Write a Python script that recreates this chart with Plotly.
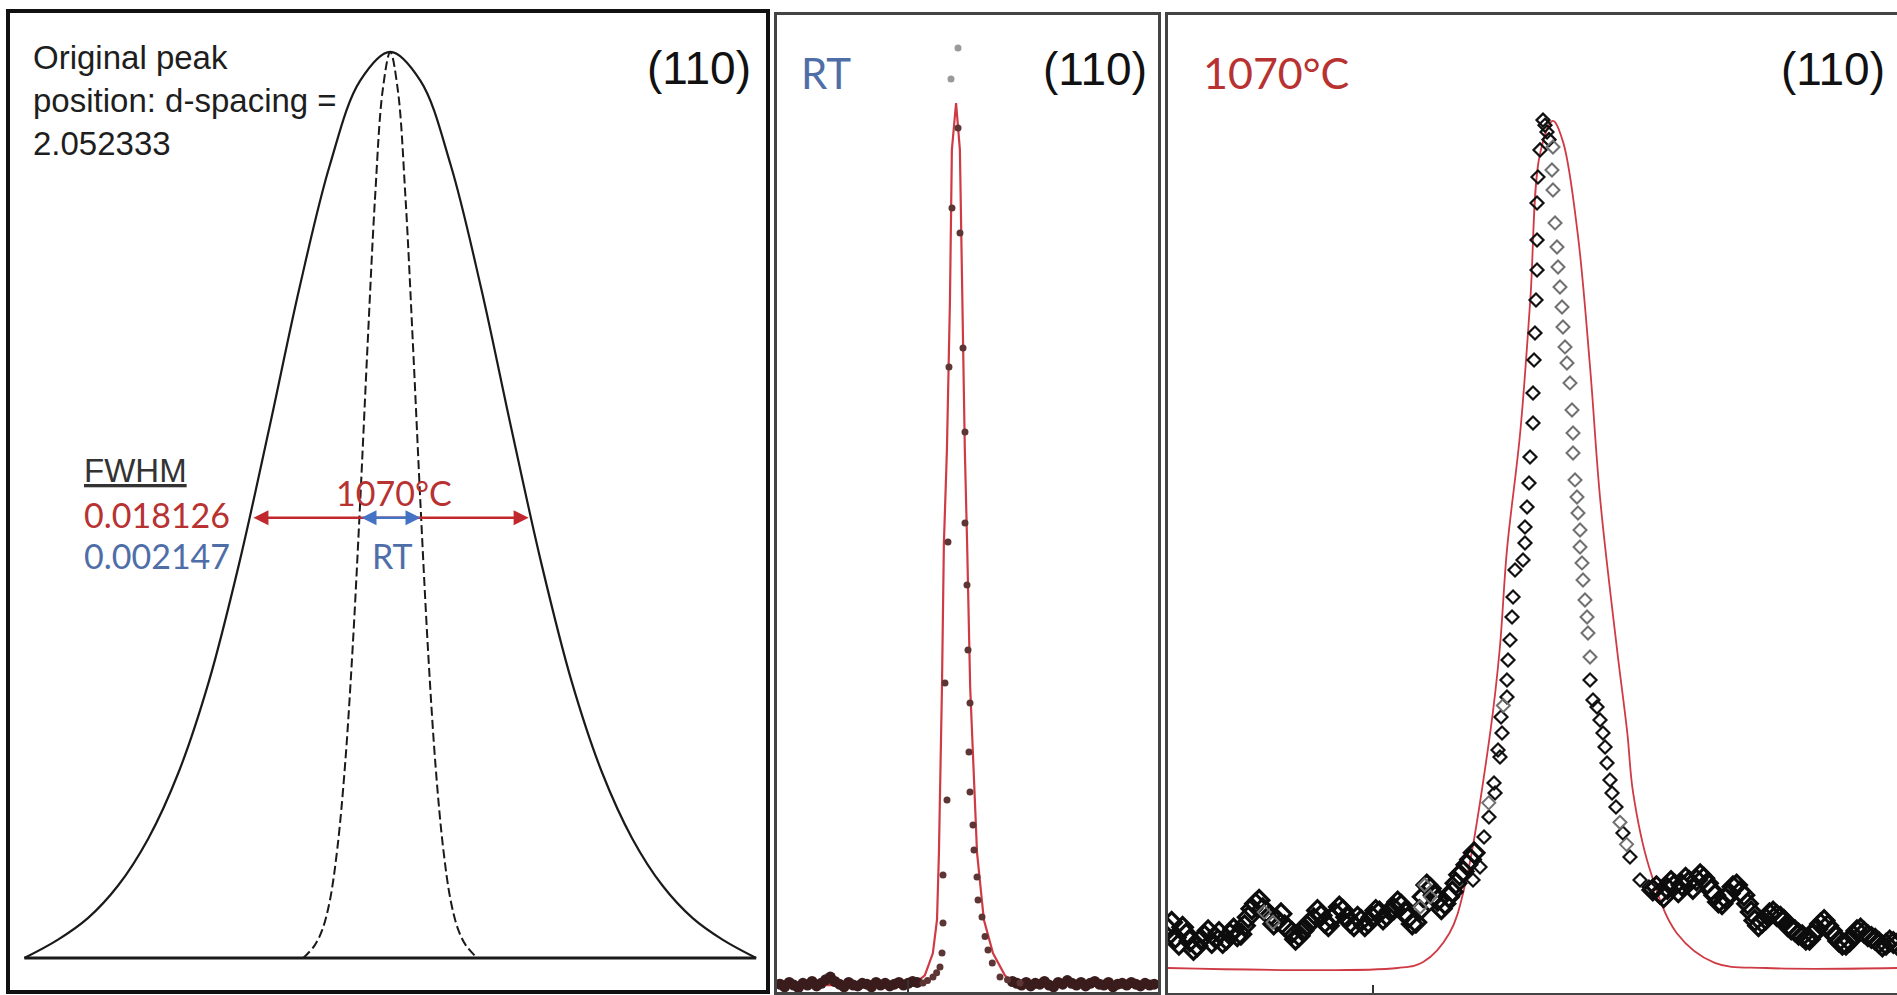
import plotly.graph_objects as go

# ---------------- Panel 1 : schematic FWHM comparison ----------------
p1_broad_x = [1.9, 6.3, 10.3, 14.3, 18.3, 22.3, 26.3, 30.3, 34.3, 38.3, 42.3, 46.3, 50.3,
              54.3, 58.3, 62.3, 66.3, 70.3, 74.3, 78.3, 82.3, 86.3, 90.3, 94.3, 98.7]
p1_broad_y = [0, 2.0, 4.4, 8.0, 13.2, 20.5, 30.5, 43.5, 58.5, 74.0, 87.5, 96.8, 100,
              96.8, 87.5, 74.0, 58.5, 43.5, 30.5, 20.5, 13.2, 8.0, 4.4, 2.0, 0]
p1_narrow_x = [38.8, 40.3, 41.3, 42.3, 43.3, 44.3, 45.3, 46.3, 47.3, 48.3, 49.3, 50.3,
               51.3, 52.3, 53.3, 54.3, 55.3, 56.3, 57.3, 58.3, 59.3, 60.3, 61.8]
p1_narrow_y = [0, 1.4, 3.1, 6.3, 12.1, 21.1, 33.9, 50.0, 67.7, 84.1, 95.8, 100,
               95.8, 84.1, 67.7, 50.0, 33.9, 21.1, 12.1, 6.3, 3.1, 1.4, 0]
p1_base_x = [1.9, 98.7]
p1_base_y = [0, 0]
p1_fwhm_1070 = [32.0, 68.6]
p1_fwhm_rt = [46.3, 54.3]
p1_arrow_level = 48.6

# ---------------- Panel 2 : RT (110) ----------------
p2_fit_x = [0, 35.7, 38.8, 40.9, 42.0, 42.5, 43.3, 43.8, 44.6, 45.4, 45.9, 47.0, 48.0,
            48.6, 49.3, 49.9, 50.7, 52.5, 54.3, 56.7, 59.8, 62.5, 100]
p2_fit_y = [0, 0, 1.1, 3.6, 7.4, 15.0, 33.8, 50.0, 60.7, 77.7, 94.7, 100, 94.7,
            77.7, 60.7, 50.0, 33.8, 15.0, 7.4, 3.6, 1.1, 0, 0]
p2_obs_x = [47.51, 45.93, 48.03, 48.82, 45.14, 49.34, 49.34, 44.88, 49.87, 50.13, 44.09,
            50.66, 50.39, 50.66, 44.62, 51.44, 51.71, 43.57, 52.49, 52.76, 53.81, 43.57,
            54.6, 55.38, 43.31, 56.5, 42.78, 41.9, 58.53, 40.94, 60.5, 63.78, 39.5, 38.32]
p2_obs_y = [97.17, 88.10, 85.26, 72.22, 70.07, 62.70, 52.38, 50.23, 45.35, 37.98, 34.24,
            31.97, 26.42, 21.88, 20.98, 18.14, 15.31, 12.47, 12.24, 9.64, 7.71, 7.03,
            5.5, 3.97, 3.63, 2.5, 2.04, 1.4, 0.91, 0.91, 0.6, 0.23, 0.5, 0.23]
p2_top_x = [47.51, 45.67]
p2_top_y = [106.24, 102.72]
p2_base_x = [0.8, 2.0, 3.2, 4.4, 5.6, 6.8, 8.0, 9.2, 10.4, 11.6, 12.8, 14.0, 15.2, 16.4,
             17.6, 18.8, 20.0, 21.2, 22.4, 23.6, 24.8, 26.0, 27.2, 28.4, 29.6, 30.8, 32.0,
             33.2, 34.4, 35.6, 36.8,
             61.8, 63.0, 64.2, 65.4, 66.6, 67.8, 69.0, 70.2, 71.4, 72.6, 73.8, 75.0, 76.2,
             77.4, 78.6, 79.8, 81.0, 82.2, 83.4, 84.6, 85.8, 87.0, 88.2, 89.4, 90.6, 91.8,
             93.0, 94.2, 95.4, 96.6, 97.8, 99.0]
p2_base_y = [0.1, -0.2, 0.3, 0.0, -0.3, 0.2, 0.0, 0.4, -0.1, 0.2, 0.6, 0.9, 0.4, 0.1,
             -0.2, 0.3, 0.0, -0.1, 0.2, 0.1, -0.2, 0.3, 0.0, 0.2, -0.1, 0.1, 0.3,
             0.0, 0.2, 0.4, 0.3,
             0.4, 0.2, 0.0, 0.3, -0.1, 0.2, 0.1, 0.4, 0.0, -0.2, 0.3, 0.1, 0.5,
             0.2, 0.0, 0.3, -0.1, 0.2, 0.4, 0.1, 0.0, 0.3, -0.2, 0.1, 0.2, 0.0,
             0.3, 0.1, -0.1, 0.2, 0.0, 0.1]
p2_tick = [34.4]

# ---------------- Panel 3 : 1070 C (110) ----------------
p3_fit_x = [0, 31.5, 35.0, 38.6, 40.8, 44.2, 45.5, 46.5, 48.3, 49.7, 51.0, 52.8, 54.2,
            56.2, 57.9, 59.3, 61.6, 63.0, 63.8, 66.0, 69.8, 75.0, 82.0, 100]
p3_fit_y = [0, 0, 0.7, 4.1, 10.0, 27.8, 37.6, 49.4, 63.1, 78.9, 96.0, 100, 97.5,
            86.7, 70.9, 55.2, 37.6, 27.8, 20.7, 11.9, 4.1, 0.6, 0, 0]

# noisy background (black open diamonds)
p3_bg_x = [0, 0.5, 1, 1.5, 2, 2.5, 3, 3.5, 4, 4.5, 5, 5.5, 6, 6.5, 7, 7.5, 8, 8.5, 9, 9.5,
           10, 10.5, 11, 11.5, 12, 12.5, 13, 13.5, 14, 14.5, 15, 15.5, 16, 16.5, 17, 17.5,
           18, 18.5, 19, 19.5, 20, 20.5, 21, 21.5, 22, 22.5, 23, 23.5, 24, 24.5, 25, 25.5,
           26, 26.5, 27, 27.5, 28, 28.5, 29, 29.5, 30, 30.5, 31, 31.5, 32, 32.5, 33, 33.5,
           34, 34.5, 35, 35.5, 36, 36.5, 37, 37.5, 38, 38.5, 39, 39.5, 40, 40.5, 41, 41.5, 42,
           66.5, 67, 67.5, 68, 68.5, 69, 69.5, 70, 70.5, 71, 71.5, 72, 72.5, 73, 73.5, 74,
           74.5, 75, 75.5, 76, 76.5, 77, 77.5, 78, 78.5, 79, 79.5, 80, 80.5, 81, 81.5, 82,
           82.5, 83, 83.5, 84, 84.5, 85, 85.5, 86, 86.5, 87, 87.5, 88, 88.5, 89, 89.5, 90,
           90.5, 91, 91.5, 92, 92.5, 93, 93.5, 94, 94.5, 95, 95.5, 96, 96.5, 97, 97.5, 98,
           98.5, 99, 99.5, 100]
p3_bg_y = [4.6, 5.4, 3.6, 2.8, 4.8, 4.0, 3.2, 2.2, 2.6, 3.4, 3.8, 4.4, 3.0, 3.6, 4.2, 3.0,
           3.4, 4.0, 4.6, 3.8, 4.0, 5.0, 6.0, 7.0, 7.6, 8.0, 7.0, 6.6, 6.2, 5.2, 5.6, 6.4,
           5.0, 4.6, 4.2, 3.4, 3.8, 4.4, 5.0, 5.4, 5.8, 6.8, 6.2, 5.4, 5.0, 5.8, 6.4, 7.2,
           6.8, 6.0, 5.4, 5.0, 6.0, 5.6, 5.0, 5.4, 6.0, 6.8, 6.6, 5.8, 6.2, 6.8, 7.0, 7.8,
           7.4, 6.6, 6.0, 5.2, 5.4, 6.8, 8.4, 9.8, 9.4, 8.6, 8.0, 7.0, 7.6, 8.4, 9.0, 10.0,
           11.0, 11.4, 12.2, 12.8, 13.6,
           9.2, 9.6, 8.8, 8.4, 9.4, 10.2, 9.8, 9.0, 9.8, 10.6, 10.2, 9.4, 10.4, 11.0, 10.6,
           10.0, 9.2, 8.6, 7.8, 7.6, 8.2, 8.8, 9.6, 9.8, 9.0, 8.6, 7.6, 6.6, 5.6, 5.0, 5.4,
           5.8, 6.4, 6.6, 6.2, 6.0, 5.6, 5.0, 4.6, 4.4, 4.0, 3.8, 3.4, 3.4, 4.0, 4.6, 5.2,
           5.6, 5.0, 4.4, 3.8, 3.2, 2.8, 2.8, 3.2, 3.8, 4.4, 4.6, 4.2, 3.8, 3.6, 3.4, 3.0,
           2.6, 2.8, 3.2, 3.0, 2.8]

# peak flanks (black open diamonds)
p3_black_x = [41.84, 42.80, 43.35, 44.03, 44.72, 44.86, 45.27, 45.54, 45.68, 45.82, 46.50,
              46.50, 46.64, 46.91, 47.19, 47.33, 47.60, 48.70, 48.97, 48.97, 49.25, 49.52,
              49.66, 50.07, 50.07, 50.21, 50.34, 50.48, 50.62, 50.62, 50.62, 50.75, 51.03,
              51.44, 51.71, 51.99, 52.26,
              57.89, 58.30, 58.85, 59.26, 59.67, 59.95, 60.22, 60.63, 60.91, 61.45, 62.41,
              63.37, 64.75, 65.98]
p3_black_y = [10.39, 11.92, 15.47, 17.83, 21.84, 20.66, 25.74, 24.91, 29.63, 27.74, 32.0,
              34.0, 36.36, 38.72, 41.44, 43.80, 46.99, 48.17, 50.18, 52.07, 54.43, 57.26,
              60.33, 64.35, 67.89, 71.78, 74.97, 78.87, 82.41, 85.95, 90.32, 93.39, 96.58,
              100.1, 99.5, 98.7, 97.8,
              34.0, 31.64, 30.81, 29.28, 27.74, 26.09, 24.20, 22.20, 20.66, 19.01, 15.94,
              13.11, 10.39, 9.56]
p3_gray_x = [52.81, 52.67, 52.81, 53.09, 53.36, 53.50, 53.77, 54.05, 54.18, 54.46, 54.73,
             55.14, 55.42, 55.56, 55.56, 55.83, 56.10, 56.24, 56.52, 56.52, 56.79, 56.93,
             57.20, 57.48, 57.61, 57.89,
             35.2, 36.0, 34.6, 14.4, 13.2, 62.0, 62.9, 44.0, 46.0]
p3_gray_y = [96.93, 94.21, 91.85, 87.96, 85.12, 82.76, 80.40, 78.04, 75.68, 73.32, 71.43,
             69.07, 65.88, 63.16, 60.80, 57.62, 55.61, 53.72, 51.71, 49.70, 47.82, 45.81,
             43.45, 41.44, 39.55, 36.72,
             9.8, 8.4, 7.2, 5.4, 6.6, 17.2, 14.6, 19.5, 31.0]
p3_tick = [28.1]

W, H = 1897, 995
RED = "#b83232"
BLUE = "#4f6ea8"
FIT = "#cf3b45"
ARIAL = "Liberation Sans, Arial, sans-serif"
CAL = "Lato, Liberation Sans, sans-serif"

fig = go.Figure()

# panel 1
fig.add_trace(go.Scatter(x=p1_base_x, y=p1_base_y, mode="lines",
                         line=dict(color="#1a1a1a", width=3), xaxis="x", yaxis="y"))
fig.add_trace(go.Scatter(x=p1_narrow_x, y=p1_narrow_y, mode="lines", line_shape="spline",
                         line=dict(color="#1a1a1a", width=2, dash="9px,4px"),
                         xaxis="x", yaxis="y"))
fig.add_trace(go.Scatter(x=p1_broad_x, y=p1_broad_y, mode="lines", line_shape="spline",
                         line=dict(color="#1a1a1a", width=2.2), xaxis="x", yaxis="y"))

# panel 2
fig.add_trace(go.Scatter(x=p2_fit_x, y=p2_fit_y, mode="lines",
                         line=dict(color=FIT, width=2.2), xaxis="x2", yaxis="y2"))
fig.add_trace(go.Scatter(x=p2_base_x, y=p2_base_y, mode="markers",
                         marker=dict(color="#3b1c1c", size=11), xaxis="x2", yaxis="y2"))
fig.add_trace(go.Scatter(x=p2_obs_x, y=p2_obs_y, mode="markers",
                         marker=dict(color="#5e3535", size=7), xaxis="x2", yaxis="y2"))
fig.add_trace(go.Scatter(x=p2_top_x, y=p2_top_y, mode="markers",
                         marker=dict(color="#9a9a9a", size=7), xaxis="x2", yaxis="y2"))

# panel 3
fig.add_trace(go.Scatter(x=p3_fit_x, y=p3_fit_y, mode="lines", line_shape="spline",
                         line=dict(color=FIT, width=1.8), xaxis="x3", yaxis="y3"))
fig.add_trace(go.Scatter(x=p3_bg_x, y=p3_bg_y, mode="markers",
                         marker=dict(symbol="diamond-open", color="#0d0d0d", size=15,
                                     line=dict(width=3.2)), xaxis="x3", yaxis="y3"))
fig.add_trace(go.Scatter(x=p3_black_x, y=p3_black_y, mode="markers",
                         marker=dict(symbol="diamond-open", color="#111111", size=10,
                                     line=dict(width=2.2)), xaxis="x3", yaxis="y3"))
fig.add_trace(go.Scatter(x=p3_gray_x, y=p3_gray_y, mode="markers",
                         marker=dict(symbol="diamond-open", color="#707070", size=10,
                                     line=dict(width=2)), xaxis="x3", yaxis="y3"))

def ax(domain, rng, lw, lc, mirror=True, anchor=None, tickvals=None, ticklen=0):
    d = dict(domain=domain, range=rng, showgrid=False, zeroline=False,
             showticklabels=False, showline=True, mirror=mirror, linewidth=lw,
             linecolor=lc, fixedrange=True)
    if anchor:
        d["anchor"] = anchor
    if tickvals:
        d.update(ticks="inside", tickvals=tickvals, ticklen=ticklen, tickwidth=2,
                 tickcolor="#333")
    else:
        d["ticks"] = ""
    return d

fig.update_layout(
    width=W, height=H, margin=dict(l=0, r=0, t=0, b=0),
    paper_bgcolor="white", plot_bgcolor="white", showlegend=False,
    xaxis=ax([10 / W, 766 / W], [0, 100], 4, "#111111", anchor="y"),
    yaxis=ax([1 - 990 / H, 1 - 13 / H], [-3.53, 104.3], 4, "#111111", anchor="x"),
    xaxis2=ax([777 / W, 1158 / W], [0, 100], 2.5, "#444444", anchor="y2",
              tickvals=p2_tick, ticklen=12),
    yaxis2=ax([1 - 992 / H, 1 - 15 / H], [-0.79, 109.98], 2.5, "#444444", anchor="x2"),
    xaxis3=ax([1168 / W, 1.0], [0, 100], 2.5, "#444444", anchor="y3",
              tickvals=p3_tick, ticklen=8),
    yaxis3=ax([1 - 993 / H, 1 - 15 / H], [-2.95, 112.51], 2.5, "#444444",
              mirror=False, anchor="x3"),
)

ann = []
ann.append(dict(x=p1_fwhm_1070[1], y=p1_arrow_level, ax=p1_fwhm_1070[0], ay=p1_arrow_level,
                xref="x", yref="y", axref="x", ayref="y", text="", showarrow=True,
                arrowhead=2, arrowside="end+start", arrowsize=1.2, arrowwidth=2.5,
                arrowcolor="#c0282d", standoff=0, startstandoff=0))
ann.append(dict(x=p1_fwhm_rt[1], y=p1_arrow_level, ax=p1_fwhm_rt[0], ay=p1_arrow_level,
                xref="x", yref="y", axref="x", ayref="y", text="", showarrow=True,
                arrowhead=2, arrowside="end+start", arrowsize=1.2, arrowwidth=2.5,
                arrowcolor="#4472c4", standoff=0, startstandoff=0))

def txt(text, x, y, xr, yr, size, color, family, xanchor="left", yanchor="middle", align="left"):
    return dict(text=text, x=x, y=y, xref=xr, yref=yr, showarrow=False, xanchor=xanchor,
                yanchor=yanchor, align=align, font=dict(size=size, color=color, family=family))

ann += [
    txt("Original peak<br>position: d-spacing =<br>2.052333", 2.8, 101.6, "x", "y", 33,
        "#1e1e1e", ARIAL, yanchor="top"),
    txt("(110)", 98.3, 98.2, "x", "y", 46, "#111111", ARIAL, xanchor="right"),
    txt("<u>FWHM</u>", 9.5, 53.8, "x", "y", 33, "#333333", ARIAL),
    txt("0.018126", 9.5, 48.9, "x", "y", 34, RED, CAL),
    txt("0.002147", 9.5, 44.4, "x", "y", 34, BLUE, CAL),
    txt("1070°C", 50.8, 51.4, "x", "y", 34, RED, CAL, xanchor="center"),
    txt("RT", 50.6, 44.4, "x", "y", 34, BLUE, CAL, xanchor="center"),
    txt("RT", 5.8, 103.4, "x2", "y2", 42, BLUE, CAL),
    txt("(110)", 97.6, 103.9, "x2", "y2", 46, "#111111", ARIAL, xanchor="right"),
    txt("1070°C", 4.5, 105.7, "x3", "y3", 43, RED, CAL),
    txt("(110)", 98.6, 106.1, "x3", "y3", 46, "#111111", ARIAL, xanchor="right"),
]
fig.update_layout(annotations=ann)

fig.write_html("out.html")
